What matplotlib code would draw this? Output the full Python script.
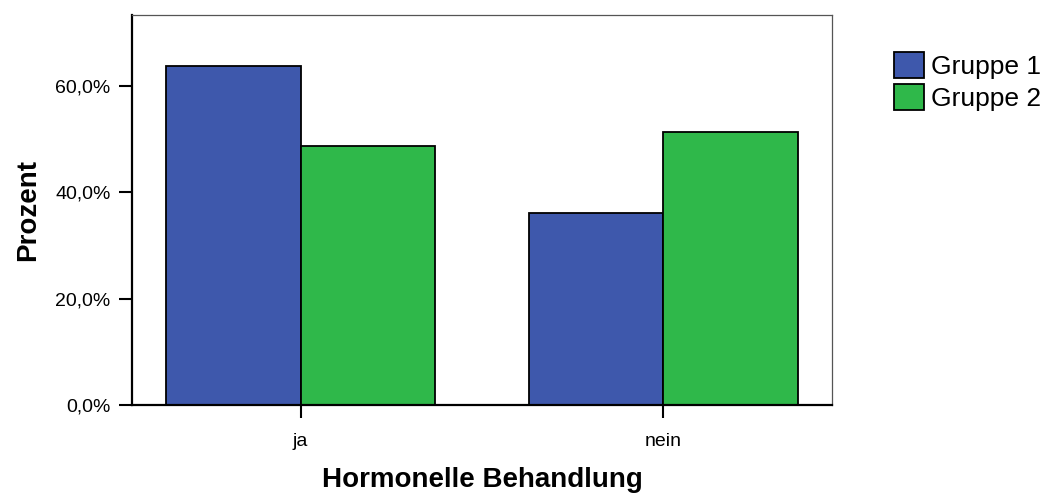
import matplotlib
matplotlib.use("Agg")
import matplotlib.pyplot as plt
import numpy as np
from matplotlib.ticker import FuncFormatter

plt.rcParams['font.family'] = ['Liberation Sans', 'DejaVu Sans']

# data
kategorien = ["ja", "nein"]
gruppe1 = [63.8, 36.2]
gruppe2 = [48.7, 51.3]
gruppen = ["Gruppe 1", "Gruppe 2"]
farben = ["#3E58AC", "#2FB84A"]

fig = plt.figure(figsize=(10.45, 4.93), dpi=100)
ax = fig.add_axes([0.1263, 0.1785, 0.67, 0.791])

x = np.arange(len(kategorien))
w = 0.37
ax.bar(x - w / 2, gruppe1, w, color=farben[0], edgecolor="black", linewidth=1.3, label=gruppen[0])
ax.bar(x + w / 2, gruppe2, w, color=farben[1], edgecolor="black", linewidth=1.3, label=gruppen[1])

ax.set_xlim(-0.465, 1.465)
ax.set_ylim(0, 73.4)
ax.set_yticks([0, 20, 40, 60])
ax.yaxis.set_major_formatter(FuncFormatter(lambda v, p: f"{v:.1f}%".replace(".", ",")))
ax.set_xticks(x)
ax.set_xticklabels(kategorien)

ax.tick_params(axis="both", labelsize=14, length=9.5, width=1.5, direction="out")
ax.tick_params(axis="y", pad=6)
ax.tick_params(axis="x", pad=11)

for s in ["left", "bottom"]:
    ax.spines[s].set_linewidth(1.6)
for s in ["top", "right"]:
    ax.spines[s].set_linewidth(0.9)
    ax.spines[s].set_color("#555555")

ax.set_xlabel("Hormonelle Behandlung", fontsize=20, fontweight="bold", labelpad=12)
ax.set_ylabel("Prozent", fontsize=20, fontweight="bold", labelpad=10)

fig.legend(loc="upper left", bbox_to_anchor=(894 / 1045, 1 - 52 / 493), frameon=False,
           fontsize=19, handlelength=1.12, handleheight=1.12, handletextpad=0.3,
           labelspacing=0.2, borderpad=0, borderaxespad=0)

fig.savefig("out.png", dpi=100)
